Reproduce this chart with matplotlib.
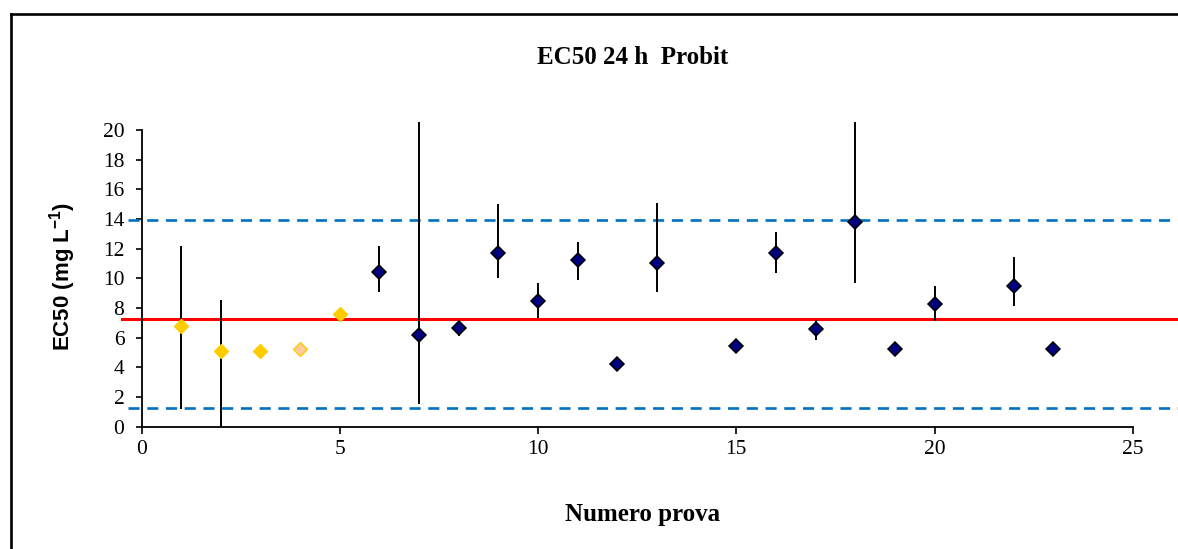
import numpy as np
import matplotlib
matplotlib.use("Agg")
import matplotlib.pyplot as plt
from matplotlib.lines import Line2D

# Preliminary trials (yellow) and routine trials (navy)
trial_pre = [1, 2, 3, 4, 5]
ec50_pre = [6.8, 5.1, 5.1, 5.2, 7.6]
low_pre = [1.2, 0.0, np.nan, np.nan, np.nan]
high_pre = [12.15, 8.55, np.nan, np.nan, np.nan]

trial = [6, 7, 8, 9, 10, 11, 12, 13, 15, 16, 17, 18, 19, 20, 22, 23]
ec50 = [10.4, 6.15, 6.65, 11.7, 8.45, 11.2, 4.2, 11.05, 5.4, 11.7, 6.55, 13.8, 5.25, 8.25, 9.5, 5.25]
low = [9.05, 1.55, 6.1, 10.0, 7.3, 9.85, np.nan, 9.05, np.nan, 10.35, 5.85, 9.7, np.nan, 7.1, 8.15, np.nan]
high = [12.15, 23.0, 7.2, 15.0, 9.7, 12.45, np.nan, 15.1, np.nan, 13.1, 7.2, 22.5, np.nan, 9.45, 11.4, np.nan]

mean_ec50 = 7.25
lower_limit = 1.26
upper_limit = 13.9

y_ticks = list(range(0, 21, 2))
x_ticks = [0, 5, 10, 15, 20, 25]

serif = "Liberation Serif"
sans = "Liberation Sans"

plt.rcParams["mathtext.fontset"] = "custom"
plt.rcParams["mathtext.rm"] = "Liberation Sans:bold"
plt.rcParams["mathtext.bf"] = "Liberation Sans:bold"
plt.rcParams["mathtext.default"] = "bf"

W, H = 1178, 549
fig = plt.figure(figsize=(W / 100, H / 100), dpi=100)

# axes placed in pixel terms: x from -0.6 to 26.5, y from 0 to 20.5
x_unit = 39.65
y_unit = 14.83
x0_px, y0_px = 141.5, 426.5
xmin, xmax = -0.6, 26.5
ymin, ymax = 0.0, 20.5
left = (x0_px + xmin * x_unit) / W
right = (x0_px + xmax * x_unit) / W
bottom = (H - y0_px) / H
top = (H - (y0_px - ymax * y_unit)) / H
ax = fig.add_axes([left, bottom, right - left, top - bottom])
ax.set_xlim(xmin, xmax)
ax.set_ylim(ymin, ymax)

# reference lines
ax.plot([-0.49, 26.4], [mean_ec50, mean_ec50], color="#FF0000", lw=2.2, zorder=2)
ax.plot([-0.34, 25.95], [upper_limit, upper_limit], color="#0070C0", lw=1.9,
        linestyle=(0, (4.2, 2.9)), zorder=2)
ax.plot([-0.34, 26.4], [lower_limit, lower_limit], color="#0070C0", lw=1.9,
        linestyle=(0, (4.2, 2.9)), zorder=2)

# confidence intervals
ax.vlines(trial_pre, low_pre, high_pre, color="black", lw=1.4, zorder=3)
ax.vlines(trial, low, high, color="black", lw=1.4, zorder=3)

# markers
pre_face = ["#FFCC00", "#FFCC00", "#FFCC00", "#FFCC99", "#FFCC00"]
for xv, yv, fc in zip(trial_pre, ec50_pre, pre_face):
    ax.plot(xv, yv, marker="D", ms=7.0, mfc=fc, mec="#FFCC00", mew=1.0,
            linestyle="none", zorder=4)
ax.plot(trial, ec50, marker="D", ms=7.0, mfc="#000080", mec="black", mew=1.1,
        linestyle="none", zorder=4)

# axes styling
for s in ("top", "right"):
    ax.spines[s].set_visible(False)
ax.spines["left"].set_position(("data", 0))
ax.spines["left"].set_bounds(0, 20)
ax.spines["bottom"].set_bounds(0, 25)
for s in ("left", "bottom"):
    ax.spines[s].set_linewidth(1.3)
ax.set_yticks(y_ticks)
ax.set_xticks(x_ticks)
ax.tick_params(axis="y", direction="out", length=4.3, width=1.2, pad=8,
               labelsize=15.5)
ax.tick_params(axis="x", direction="out", length=4.8, width=1.2, pad=5,
               labelsize=15.5)
for lab in ax.get_xticklabels() + ax.get_yticklabels():
    lab.set_fontfamily(serif)

# titles and labels
fig.text(633 / W, 1 - 57 / H, "EC50 24 h  Probit", family=serif,
         fontweight="bold", fontsize=18, ha="center", va="center")
fig.text(643 / W, 1 - 514 / H, "Numero prova", family=serif,
         fontweight="bold", fontsize=18, ha="center", va="center")
fig.text(63 / W, 1 - 276 / H, r"EC50 (mg L$^{-1}$)", family=sans,
         fontweight="bold", fontsize=16, ha="center", va="center",
         rotation=90)

# chart frame
fig.add_artist(Line2D([11 / W, 11 / W], [0, 1 - 13.5 / H], transform=fig.transFigure,
                      color="black", lw=1.9))
fig.add_artist(Line2D([11 / W, 1.0], [1 - 13.5 / H, 1 - 13.5 / H],
                      transform=fig.transFigure, color="black", lw=1.9))

fig.savefig("out.png", dpi=100)
